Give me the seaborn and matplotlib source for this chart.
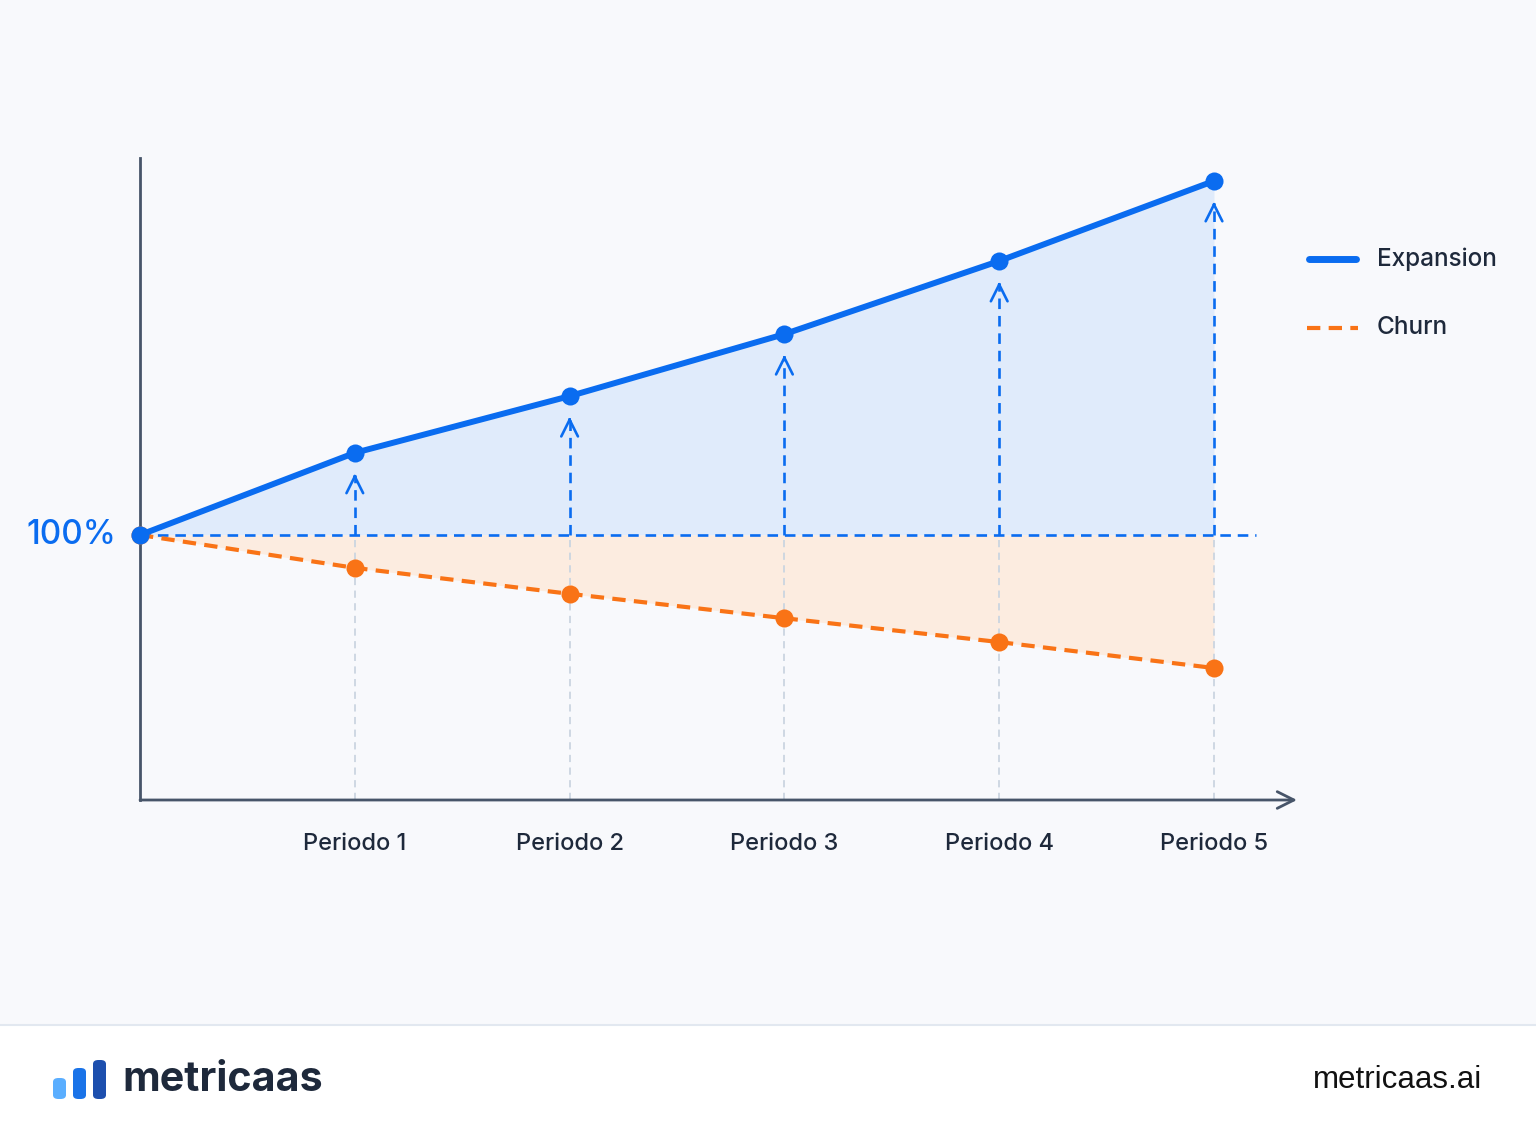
import numpy as np
import pandas as pd
import seaborn as sns
import matplotlib.pyplot as plt
from matplotlib.lines import Line2D
from matplotlib.patches import FancyBboxPatch, Rectangle

# data (percent of starting revenue)
periods = ["Inicio", "Periodo 1", "Periodo 2", "Periodo 3", "Periodo 4", "Periodo 5"]
expansion = [100, 115.5, 126.2, 137.9, 151.7, 166.8]
churn = [100, 93.8, 88.9, 84.3, 79.8, 74.9]
baseline = 100

BLUE = "#0a6cf0"
ORANGE = "#f97316"
DARK = "#1e293b"
AXIS = "#475569"
GREY = "#cbd5e1"

sns.set_theme(style="white")
plt.rcParams["font.family"] = ["Inter", "DejaVu Sans"]

W, H = 1536, 1136
fig = plt.figure(figsize=(W / 100, H / 100), dpi=100)
fig.patch.set_facecolor("#f8f9fc")

# footer
fig.add_artist(Rectangle((0, 0), 1, (H - 1025) / H, transform=fig.transFigure,
                         facecolor="white", edgecolor="none", zorder=0))
fig.add_artist(Line2D([0, 1], [(H - 1025) / H] * 2, transform=fig.transFigure,
                      color="#e2e8f0", lw=1.5))

ax = fig.add_axes([140 / W, (H - 800) / H, 1157 / W, 642 / H])
ax.set_facecolor("none")

df = pd.DataFrame({"x": np.arange(len(periods)), "exp": expansion, "churn": churn})
x = df["x"].values

ax.fill_between(x, baseline, df["exp"], color="#dce9fb", alpha=0.85, lw=0, zorder=1)
ax.fill_between(x, df["churn"], baseline, color="#fdeadb", alpha=0.85, lw=0, zorder=1)

# grey guide lines down to the axis
for xi in x[1:]:
    ax.plot([xi, xi], [50, baseline], color=GREY, lw=1.3, ls=(0, (4, 3)), zorder=2)

# blue dashed arrows from baseline up to expansion points
for xi, yi in zip(x[1:], df["exp"].values[1:]):
    tip = yi - 4.2
    ax.plot([xi, xi], [baseline, tip], color=BLUE, lw=1.9, ls=(0, (4, 2.6)), zorder=3)
    ax.annotate("", xy=(xi, tip + 0.3), xytext=(xi, tip - 0.5),
                arrowprops=dict(arrowstyle="->", color=BLUE, lw=1.9,
                                mutation_scale=30, shrinkA=0, shrinkB=0), zorder=3)

ax.plot([0, 5.196], [baseline, baseline], color=BLUE, lw=1.9, ls=(0, (4, 2.6)), zorder=3)

sns.lineplot(data=df, x="x", y="churn", ax=ax, color=ORANGE, lw=3,
             linestyle=(0, (3.2, 2)), marker="o", markersize=13,
             markeredgewidth=0, zorder=4, clip_on=False)
sns.lineplot(data=df, x="x", y="exp", ax=ax, color=BLUE, lw=4.3,
             marker="o", markersize=13, markeredgewidth=0, zorder=5, clip_on=False)

ax.set_xlim(0, 1157 / 214.8)
ax.set_ylim(50, 50 + 642 / 5.3)
for s in ["top", "right", "bottom"]:
    ax.spines[s].set_visible(False)
ax.spines["left"].set_color(AXIS)
ax.spines["left"].set_linewidth(2)
ax.annotate("", xy=(1157 / 214.8, 50), xytext=(0, 50), annotation_clip=False,
            arrowprops=dict(arrowstyle="->", color=AXIS, lw=2,
                            mutation_scale=30, shrinkA=0, shrinkB=0))
ax.set_xlabel("")
ax.set_ylabel("")
ax.set_yticks([])
ax.set_xticks(x[1:])
ax.set_xticklabels(periods[1:], fontsize=17, color=DARK, fontweight="medium")
ax.tick_params(axis="x", length=0, pad=24)

ax.text(-0.11, baseline, "100%", color=BLUE, fontsize=24, ha="right", va="center",
        fontweight="medium")

# legend drawn by hand
fig.add_artist(Line2D([1309 / W, 1356 / W], [(H - 259) / H] * 2, transform=fig.transFigure,
                      color=BLUE, lw=5, solid_capstyle="round"))
fig.add_artist(Line2D([1307 / W, 1358 / W], [(H - 328) / H] * 2, transform=fig.transFigure,
                      color=ORANGE, lw=3, ls=(0, (3.2, 2))))
fig.text(1377 / W, (H - 259) / H, "Expansion", fontsize=17.5, color=DARK, va="center",
         fontweight="medium")
fig.text(1377 / W, (H - 328) / H, "Churn", fontsize=17.5, color=DARK, va="center",
         fontweight="medium")

# footer brand
for (x0, y0, bw, bh, c) in [(53, 1078, 13, 21, "#5aaeff"), (73, 1068, 13, 31, "#1a73e8"),
                            (93, 1060, 13, 39, "#1d4fae")]:
    fig.add_artist(FancyBboxPatch((x0 / W, (H - y0 - bh) / H), bw / W, bh / H,
                                  boxstyle="round,pad=0,rounding_size=0.0035",
                                  transform=fig.transFigure, facecolor=c, edgecolor="none"))
fig.text(122 / W, (H - 1080) / H, "metricaas", fontsize=29.7, fontweight="bold",
         color=DARK, va="center")
fig.text(1482 / W, (H - 1080) / H, "metricaas.ai", fontsize=22.5, color="#111111",
         va="center", ha="right", family=["Liberation Sans", "DejaVu Sans"])

fig.savefig("out.png", dpi=100, facecolor=fig.get_facecolor())
